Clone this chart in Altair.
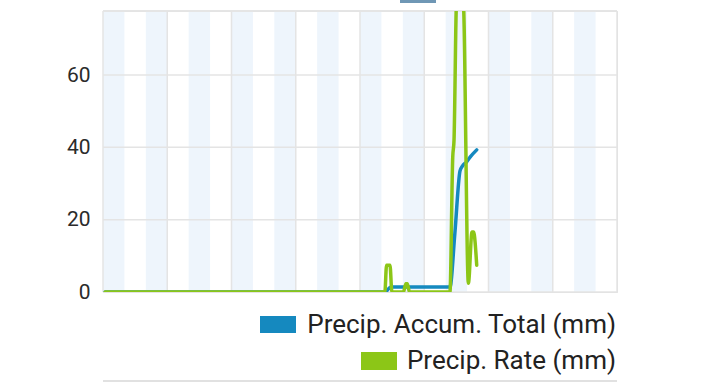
import altair as alt
import pandas as pd

# ---- data ----
rate_hours = [0.1, 13.16, 13.24, 13.40, 13.49, 14.03, 14.14, 14.21, 14.31, 16.20,
              16.33, 16.39, 16.51, 16.82, 17.06, 17.23, 17.30, 17.45]
rate_vals = [0, 0, 7.4, 7.4, 0, 0, 2.3, 2.3, 0, 0,
             37.3, 42, 80, 80, 2.4, 16.6, 16.6, 7.4]

accum_hours = [0.1, 13.16, 13.45, 16.20, 16.43, 16.67, 16.78, 16.98, 17.14, 17.45]
accum_vals = [0, 0, 1.4, 1.4, 16.3, 33.5, 34.8, 36.0, 37.3, 39.3]

band_starts = [0, 2, 4, 6, 8, 10, 12, 14, 16, 18, 20, 22]
band_len = 1
grid_hours = [0, 3, 6, 9, 12, 15, 18, 21, 24]
y_ticks = [0, 20, 40, 60]
x_domain = [0, 24]
y_domain = [0, 77.7]

series_names = ["Precip. Accum. Total (mm)", "Precip. Rate (mm)"]
series_colors = ["#1589bf", "#8cc617"]

# ---- layout constants ----
W, H = 514, 281
FONT = "Roboto"
GRID = "#e4e4e4"
BAND = "#eef5fc"

rate_df = pd.DataFrame({"t": rate_hours, "v": rate_vals})
accum_df = pd.DataFrame({"t": accum_hours, "v": accum_vals})
band_df = pd.DataFrame({"s": band_starts, "e": [b + band_len for b in band_starts]})
vgrid_df = pd.DataFrame({"t": grid_hours})
hgrid_df = pd.DataFrame({"v": y_ticks})

xs = alt.Scale(domain=x_domain, nice=False, zero=False)
ys = alt.Scale(domain=y_domain, nice=False)

bands = alt.Chart(band_df).mark_rect(color=BAND).encode(
    x=alt.X("s:Q", scale=xs, axis=None),
    x2="e:Q",
    y=alt.value(0),
    y2=alt.value(H),
)

vgrid = alt.Chart(vgrid_df).mark_rule(color=GRID, strokeWidth=1.5).encode(
    x=alt.X("t:Q", scale=xs),
    y=alt.value(0),
    y2=alt.value(H),
)

hgrid = alt.Chart(hgrid_df).mark_rule(color=GRID, strokeWidth=1.5).encode(
    y=alt.Y(
        "v:Q",
        scale=ys,
        axis=alt.Axis(
            values=y_ticks,
            title=None,
            domain=False,
            ticks=False,
            tickSize=0,
            grid=False,
            labelPadding=13,
            labelFont=FONT,
            labelFontSize=21,
            labelColor="#2b2b2b",
        ),
    ),
    x=alt.value(0),
    x2=alt.value(W),
)

top_border = alt.Chart(hgrid_df).mark_rule(color=GRID, strokeWidth=1.5).encode(
    y=alt.value(0), x=alt.value(0), x2=alt.value(W)
)

line_style = dict(strokeWidth=3.5, clip=True, interpolate="monotone",
                  strokeJoin="round", strokeCap="round")

accum_line = alt.Chart(accum_df).mark_line(color=series_colors[0], **line_style).encode(
    x=alt.X("t:Q", scale=xs), y=alt.Y("v:Q", scale=ys)
)

rate_line = alt.Chart(rate_df).mark_line(color=series_colors[1], **line_style).encode(
    x=alt.X("t:Q", scale=xs), y=alt.Y("v:Q", scale=ys)
)

# ---- legend (right-aligned entries below the plot) ----
legend_layers = []
legend_rows = [
    # text baseline y, swatch x0, x1, y0, y1
    (322, 157, 193, 305, 322),
    (358, 258, 294, 341, 359),
]
for name, col, (ty, sx0, sx1, sy0, sy1) in zip(series_names, series_colors, legend_rows):
    d = alt.Data(values=[{"label": name}])
    legend_layers.append(
        alt.Chart(d).mark_rect(color=col).encode(
            x=alt.value(sx0), x2=alt.value(sx1), y=alt.value(sy0), y2=alt.value(sy1)
        )
    )
    legend_layers.append(
        alt.Chart(d).mark_text(
            align="right", baseline="alphabetic", font=FONT, fontSize=26, color="#222222"
        ).encode(text="label:N", x=alt.value(513), y=alt.value(ty))
    )

# pieces of neighbouring page elements peeking in at the edges
bottom_edge = alt.Chart(hgrid_df).mark_rule(color="#e0e0e0", strokeWidth=1.5).encode(
    y=alt.value(370), x=alt.value(0), x2=alt.value(W)
)
top_piece = alt.Chart(alt.Data(values=[{"k": 1}])).mark_rect(color="#6f97b5").encode(
    x=alt.value(297), x2=alt.value(333), y=alt.value(-11), y2=alt.value(-8)
)

chart = alt.layer(
    bands, vgrid, hgrid, top_border, accum_line, rate_line, bottom_edge, top_piece,
    *legend_layers
).properties(
    width=W,
    height=H,
    autosize=alt.AutoSizeParams(type="none"),
    padding={"left": 103, "top": 11, "right": 720 - 103 - W, "bottom": 384 - 11 - H},
).configure_view(stroke=None).configure(background="white")

chart.save("out.html", embed_options={"renderer": "svg", "actions": False})
